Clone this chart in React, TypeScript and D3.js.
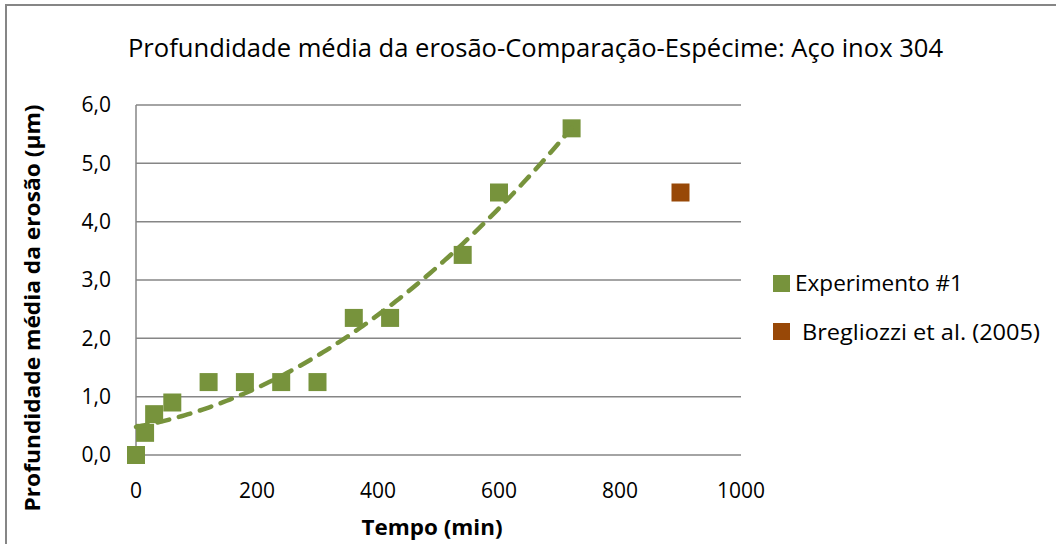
import React from "react";
import * as d3 from "d3";

const title = "Profundidade média da erosão-Comparação-Espécime: Aço inox 304";
const yTitle = "Profundidade média da erosão  (µm)";
const xTitle = "Tempo (min)";

const expTime = [0, 15, 30, 60, 120, 180, 240, 300, 360, 420, 540, 600, 720];
const expDepth = [0, 0.38, 0.7, 0.9, 1.25, 1.25, 1.25, 1.25, 2.35, 2.35, 3.43, 4.5, 5.6];
const refTime = [900];
const refDepth = [4.5];

const xTicks = [0, 200, 400, 600, 800, 1000];
const yTicks = [0, 1, 2, 3, 4, 5, 6];

const seriesNames = ["Experimento #1", "Bregliozzi et al. (2005)"];
const seriesColors = ["#77933C", "#984807"];

// least-squares quadratic fit (Excel polynomial trendline, order 2)
function polyFit2(xs: number[], ys: number[]) {
  const n = xs.length;
  let s1 = 0, s2 = 0, s3 = 0, s4 = 0, t0 = 0, t1 = 0, t2 = 0;
  for (let i = 0; i < n; i++) {
    const x = xs[i], y = ys[i];
    s1 += x; s2 += x * x; s3 += x * x * x; s4 += x * x * x * x;
    t0 += y; t1 += x * y; t2 += x * x * y;
  }
  const M = [
    [n, s1, s2, t0],
    [s1, s2, s3, t1],
    [s2, s3, s4, t2],
  ];
  for (let c = 0; c < 3; c++) {
    let p = c;
    for (let r = c + 1; r < 3; r++) if (Math.abs(M[r][c]) > Math.abs(M[p][c])) p = r;
    [M[c], M[p]] = [M[p], M[c]];
    for (let r = 0; r < 3; r++) {
      if (r === c) continue;
      const f = M[r][c] / M[c][c];
      for (let k = c; k < 4; k++) M[r][k] -= f * M[c][k];
    }
  }
  return [M[0][3] / M[0][0], M[1][3] / M[1][1], M[2][3] / M[2][2]];
}

export default function App() {
  const W = 1056, H = 544;
  const x = d3.scaleLinear().domain([0, 1000]).range([136, 741]);
  const y = d3.scaleLinear().domain([0, 6]).range([455, 105]);
  const [a, b, c] = polyFit2(expTime, expDepth);
  const trendX = d3.range(0, 721, 5);
  const line = d3
    .line<number>()
    .x((t) => x(t))
    .y((t) => y(a + b * t + c * t * t));
  const ms = 18;
  const grid = "#868686";
  const font = "'Open Sans', sans-serif";

  return (
    <svg width={W} height={H} style={{ position: "absolute", left: 0, top: 0 }}>
      <rect x={0} y={0} width={W} height={H} fill="#fff" />
      <rect x={6} y={5} width={W + 20} height={H + 20} fill="none" stroke={grid} strokeWidth={2} />
      <text x={535.5} y={57} textAnchor="middle" fontFamily={font} fontSize={25} fill="#000" textLength={815} lengthAdjust="spacingAndGlyphs">
        {title}
      </text>
      {yTicks.map((t) => (
        <line key={"g" + t} x1={x(0)} x2={x(1000)} y1={y(t)} y2={y(t)} stroke={grid} strokeWidth={1.5} />
      ))}
      <line x1={x(0)} x2={x(0)} y1={y(6)} y2={y(0)} stroke={grid} strokeWidth={1.5} />
      {yTicks.map((t) => (
        <text key={"yl" + t} x={111} y={y(t)} dy="0.35em" textAnchor="end" fontFamily={font} fontSize={21} fill="#000">
          {d3.format(".1f")(t).replace(".", ",")}
        </text>
      ))}
      {xTicks.map((t) => (
        <text key={"xl" + t} x={x(t)} y={498} textAnchor="middle" fontFamily={font} fontSize={21} fill="#000">
          {t}
        </text>
      ))}
      <text x={432} y={535} textAnchor="middle" fontFamily={font} fontWeight="bold" fontSize={21} fill="#000" textLength={141} lengthAdjust="spacingAndGlyphs">
        {xTitle}
      </text>
      <text transform={`translate(40,${308}) rotate(-90)`} textAnchor="middle" fontFamily={font} fontWeight="bold" fontSize={21} fill="#000" textLength={407} lengthAdjust="spacingAndGlyphs">
        {yTitle}
      </text>
      {expTime.map((t, i) => (
        <rect key={"e" + i} x={x(t) - ms / 2} y={y(expDepth[i]) - ms / 2} width={ms} height={ms} fill={seriesColors[0]} />
      ))}
      {refTime.map((t, i) => (
        <rect key={"r" + i} x={x(t) - ms / 2} y={y(refDepth[i]) - ms / 2} width={ms} height={ms} fill={seriesColors[1]} />
      ))}
      <path d={line(trendX) || ""} fill="none" stroke={seriesColors[0]} strokeWidth={4.5} strokeDasharray="12 10" strokeLinecap="round" />
      {seriesNames.map((n, i) => (
        <g key={"lg" + i}>
          <rect x={773} y={[275, 323][i]} width={17} height={17} fill={seriesColors[i]} />
          <text x={[795, 802][i]} y={[291, 340][i]} fontFamily={font} fontSize={21} fill="#000" textLength={[168, 238][i]} lengthAdjust="spacingAndGlyphs">
            {n}
          </text>
        </g>
      ))}
    </svg>
  );
}
